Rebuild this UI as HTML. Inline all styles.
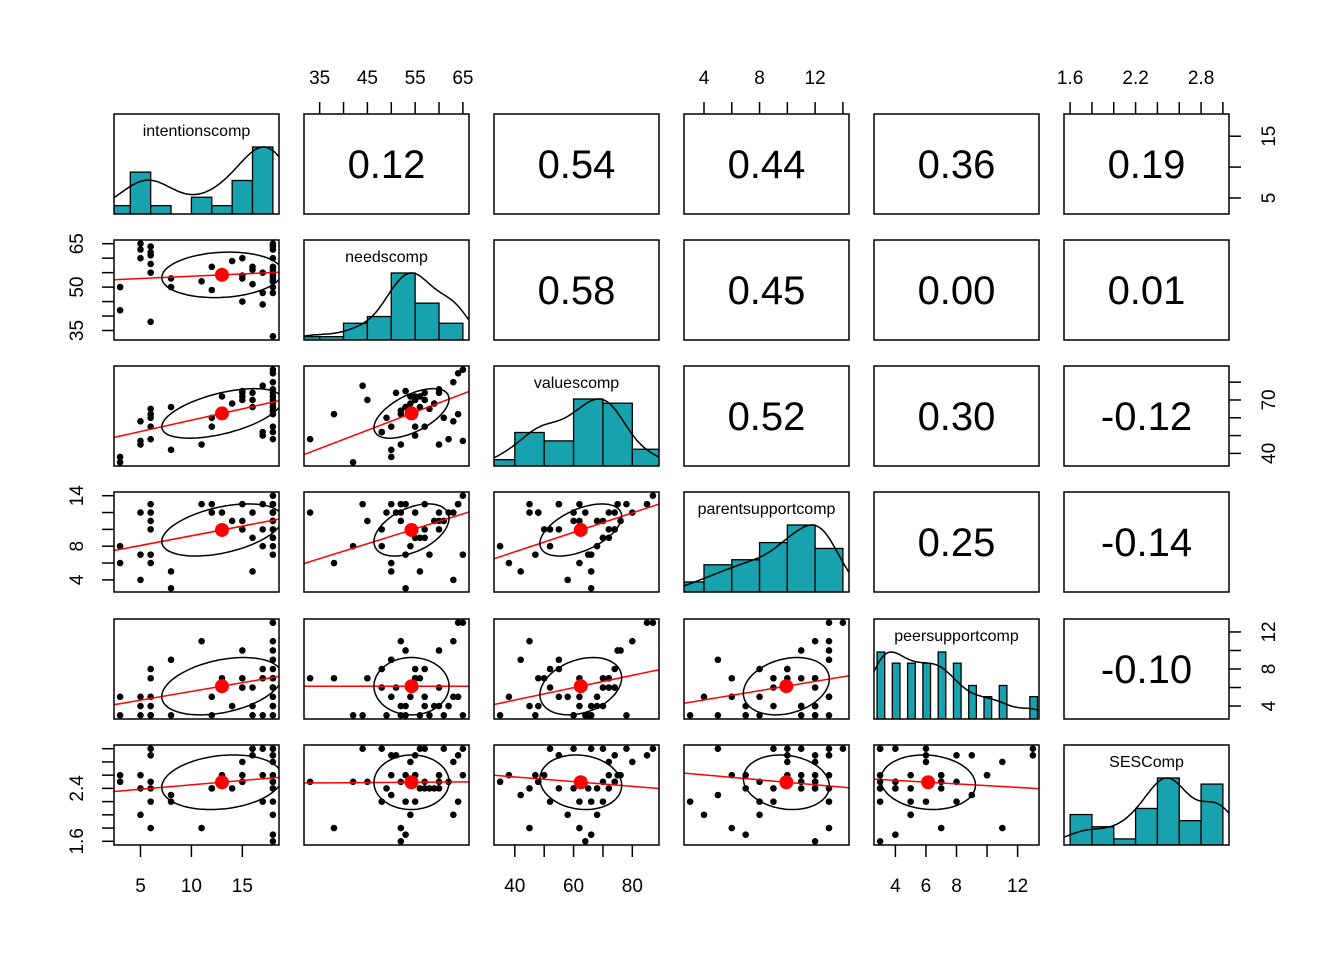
<!DOCTYPE html>
<html><head><meta charset="utf-8">
<style>
html,body{margin:0;padding:0;background:#fff;}
svg{display:block;font-family:"Liberation Sans",Arial,sans-serif;}
</style></head>
<body>
<svg id="chart" width="1344" height="960" viewBox="0 0 1344 960"></svg>
<script>
const varNames = ["intentionscomp","needscomp","valuescomp","parentsupportcomp","peersupportcomp","SESComp"];
const intentions = [3,3,5,5,5,6,6,6,6,6,6,8,8,11,12,12,13,14,15,15,15,15,16,16,16,17,17,17,18,18,18,18,18,18,18,18,18,18,18,18,18,18];
const needs = [42,50,63,65,60,38,61,62,64,58,55,50,53,52,57,49,55,59,60,53,45,54,57,56,51,44,48,55,65,64,63,60,57,56,55,54,53,52,52,50,48,33];
const values = [35,38,58,47,45,62,60,48,62,65,55,42,66,45,55,60,72,68,74,75,70,72,70,66,74,78,52,50,87,85,80,76,74,72,70,68,66,64,62,55,52,48];
const parent = [8,6,4,7,12,6,11,12,13,7,10,5,3,13,13,12,12,11,10,13,11,10,9,5,12,13,8,10,14,13,12,11,10,9,9,8,7,12,11,13,10,12];
const peer = [3,5,5,3,4,7,3,4,5,3,8,9,3,11,5,3,7,4,6,10,7,6,4,3,6,3,8,7,13,13,11,10,8,7,6,5,4,3,4,9,6,7];
const ses = [2.5,2.6,2.0,2.6,2.4,1.8,3.0,2.5,2.2,2.4,2.9,2.3,2.2,1.8,2.4,2.4,2.6,2.4,2.5,2.6,2.5,2.8,3.0,3.0,2.9,3.0,2.2,2.6,3.0,2.9,2.8,2.6,2.5,2.4,2.2,2.0,1.7,1.6,2.5,2.9,3.0,2.5];
const corLabels = [
 [null,"0.12","0.54","0.44","0.36","0.19"],
 [null,null,"0.58","0.45","0.00","0.01"],
 [null,null,null,"0.52","0.30","-0.12"],
 [null,null,null,null,"0.25","-0.14"],
 [null,null,null,null,null,"-0.10"]];
const histBreaksInt = [2,4,6,8,10,12,14,16,18];
const histCountsInt = [2,10,2,0,4,2,8,16];
const histBreaksNeeds = [30,35,40,45,50,55,60,65];
const histCountsNeeds = [1,1,5,7,20,11,5];
const histBreaksValues = [30,40,50,60,70,80,90];
const histCountsValues = [1.5,8,6,16,15,4];
const histBreaksParent = [2,4,6,8,10,12,14];
const histCountsParent = [2.4,6.5,7.7,11.8,16,10.4];
const histBreaksPeer = [2.8,3.3,3.8,4.3,4.8,5.3,5.8,6.3,6.8,7.3,7.8,8.3,8.8,9.3,9.8,10.3,10.8,11.3,11.8,12.3,12.8,13.3];
const histCountsPeer = [6,0,5,0,5,0,5,0,6,0,5,0,3,0,2,0,3,0,0,0,2];
const histBreaksSes = [1.6,1.8,2.0,2.2,2.4,2.6,2.8,3.0];
const histCountsSes = [5,3,1,6,11,4,10];
const axisTicks = [[5,10,15],[35,40,45,50,55,60,65],[40,50,60,70,80],[4,6,8,10,12,14],[4,6,8,10,12],[1.6,1.8,2.0,2.2,2.4,2.6,2.8,3.0]];
const axisLabels = [[5,10,15],[35,45,55,65],[40,60,80],[4,8,12],[4,6,8,12],[1.6,2.2,2.8]];
const leftLabels = [null,[35,50,65],null,[4,8,14],null,[1.6,2.4]];
const rightLabels = [[5,15],null,[40,70],null,[4,8,12],null];

const data=[intentions,needs,values,parent,peer,ses];
const hB=[histBreaksInt,histBreaksNeeds,histBreaksValues,histBreaksParent,histBreaksPeer,histBreaksSes];
const hC=[histCountsInt,histCountsNeeds,histCountsValues,histCountsParent,histCountsPeer,histCountsSes];
const NS="http://www.w3.org/2000/svg";
const svg=document.getElementById('chart');
const PX=[114,304,494,684,874,1064], PY=[114,240,366,492,619,745], PW=165, PH=100;
function mk(t,a,p){const e=document.createElementNS(NS,t);for(const k in a)e.setAttribute(k,a[k]);(p||svg).appendChild(e);return e;}
const mean=a=>a.reduce((s,v)=>s+v,0)/a.length;
const sd=a=>{const m=mean(a);return Math.sqrt(a.reduce((s,v)=>s+(v-m)*(v-m),0)/(a.length-1));};
const rng=data.map(a=>{const mn=Math.min(...a),mx=Math.max(...a),e=(mx-mn)*0.04;return [mn-e,mx+e];});
function sx(j,v){return PX[j]+(v-rng[j][0])/(rng[j][1]-rng[j][0])*PW;}
function sy(i,v){return PY[i]+PH-(v-rng[i][0])/(rng[i][1]-rng[i][0])*PH;}
const rMat=[];for(let i=0;i<6;i++){rMat.push([]);for(let j=0;j<6;j++){const a=i<j?corLabels[i][j]:(j<i?corLabels[j][i]:"1");rMat[i].push(parseFloat(a));}}

const defs=mk('defs',{});
for(let i=0;i<6;i++)for(let j=0;j<6;j++){const cp=mk('clipPath',{id:'c'+i+j},defs);mk('rect',{x:PX[j],y:PY[i],width:PW,height:PH},cp);}

for(let i=0;i<6;i++){for(let j=0;j<6;j++){
  const g=mk('g',{});
  if(i<j){
    
    
    const t=mk('text',{x:PX[j]+PW/2,y:PY[i]+PH/2+14,'text-anchor':'middle','font-size':'40'},g);
    t.textContent=corLabels[i][j];
    
    
  } else if(i===j){
    
    
    const cg=mk('g',{'clip-path':'url(#c'+i+j+')'},g);
    const mx=Math.max(...hC[i]);
    hC[i].forEach((c,k)=>{ if(c<=0)return;
      const x0=sx(j,hB[i][k]),x1=sx(j,hB[i][k+1]),h=c/mx*PH*0.67;
      const b=mk('rect',{x:x0,y:PY[i]+PH-h,width:x1-x0,height:h,fill:'#17a2ae',stroke:'#000','stroke-width':1.3},cg);
      
      
    });
    const a=data[i],n=a.length,s=sd(a),so=[...a].sort((p,q)=>p-q);
    const iqr=so[Math.floor(0.75*(n-1))]-so[Math.floor(0.25*(n-1))];
    const bw=0.9*Math.min(s,iqr/1.34||s)*Math.pow(n,-0.2);
    const pts=[];let dmax=0;
    for(let k=0;k<=120;k++){const x=rng[i][0]+(rng[i][1]-rng[i][0])*k/120;let d=0;a.forEach(v=>{const z=(x-v)/bw;d+=Math.exp(-0.5*z*z);});pts.push([x,d]);if(d>dmax)dmax=d;}
    const dp=pts.map(p=>sx(j,p[0]).toFixed(1)+','+(PY[i]+PH-p[1]/dmax*PH*0.67).toFixed(1)).join(' ');
    const dl=mk('polyline',{points:dp,fill:'none',stroke:'#000','stroke-width':1.5},cg);
    
    
    const lt=mk('text',{x:PX[j]+PW/2,y:PY[i]+22,'text-anchor':'middle','font-size':'16'},g);
    lt.textContent=varNames[i];
    
    
  } else {
    
    
    const cg=mk('g',{'clip-path':'url(#c'+i+j+')'},g);
    const xa=data[j],ya=data[i];
    xa.forEach((xv,k)=>{
      const c=mk('circle',{cx:sx(j,xv),cy:sy(i,ya[k]),r:3.3,fill:'#000'},cg);
      
      
    });
    const mxv=mean(xa),myv=mean(ya),sxv=sd(xa),syv=sd(ya),r=rMat[i][j];
    const slope=r*syv/sxv;
    const ln=mk('line',{x1:sx(j,rng[j][0]),y1:sy(i,myv+slope*(rng[j][0]-mxv)),x2:sx(j,rng[j][1]),y2:sy(i,myv+slope*(rng[j][1]-mxv)),stroke:'#ff0000','stroke-width':1.5},cg);
    
    
    const d=Math.acos(Math.max(-1,Math.min(1,r)));const ep=[];
    for(let k=0;k<=100;k++){const t=k/100*2*Math.PI;ep.push(sx(j,mxv+1.1*sxv*Math.cos(t+d/2)).toFixed(1)+','+sy(i,myv+1.1*syv*Math.cos(t-d/2)).toFixed(1));}
    const el=mk('polygon',{points:ep.join(' '),fill:'none',stroke:'#000','stroke-width':1.5},cg);
    
    
    const md=mk('circle',{cx:sx(j,mxv),cy:sy(i,myv),r:7,fill:'#ff0000'},cg);
    
    
  }
  const fr=mk('rect',{x:PX[j],y:PY[i],width:PW,height:PH,fill:'none',stroke:'#000','stroke-width':1.5},g);
  
  
}}

function axis(side,k){
  const g=mk('g',{stroke:'#000','stroke-width':1.5});
  
  
  const tg=mk('g',{'font-size':'19','text-anchor':'middle'},svg);
  const ticks=axisTicks[k].filter(v=>v>=rng[k][0]&&v<=rng[k][1]);
  if(side==='top'||side==='bottom'){
    const y0=side==='top'?PY[0]:PY[5]+PH, dir=side==='top'?-1:1;
    ticks.forEach(v=>mk('line',{x1:sx(k,v),y1:y0+dir*12,x2:sx(k,v),y2:y0},g));
    axisLabels[k].forEach(v=>{const t=mk('text',{x:sx(k,v),y:side==='top'?84:892},tg);t.textContent=String(v);
      
      });
  } else {
    const x0=side==='left'?PX[0]:PX[5]+PW, dir=side==='left'?-1:1;
    ticks.forEach(v=>mk('line',{x1:x0+dir*12,y1:sy(k,v),x2:x0,y2:sy(k,v)},g));
    const labs=side==='left'?leftLabels[k]:rightLabels[k];
    const lx=side==='left'?83:1275;
    labs.forEach(v=>{const yy=sy(k,v);const t=mk('text',{x:lx,y:yy,transform:'rotate(-90 '+lx+' '+yy+')'},tg);t.textContent=String(v);
      
      });
  }
}
axis('top',1);axis('top',3);axis('top',5);
axis('bottom',0);axis('bottom',2);axis('bottom',4);
axis('left',1);axis('left',3);axis('left',5);
axis('right',0);axis('right',2);axis('right',4);
</script>
</body></html>
